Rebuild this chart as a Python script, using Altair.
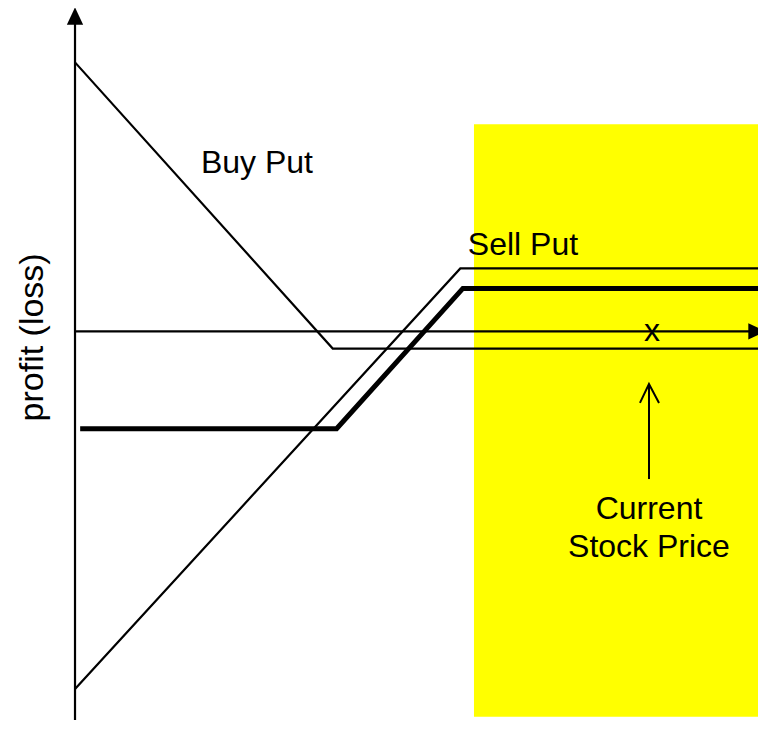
import altair as alt
import pandas as pd

# ---- data (x = stock price units, y = profit units) ----
buy_put_price = [0, 100, 266.5]
buy_put_profit = [94, -6, -6]

sell_put_price = [0, 149.5, 266.5]
sell_put_profit = [-125, 22, 22]

spread_price = [2, 101.5, 150.5, 268]
spread_profit = [-34, -34, 15, 15]

zone_price = [154.8, 266.6]
zone_profit = [-134.7, 72.4]

current_price = 222.7
arrow_profit = [-51.6, -18.4]
arrow_head_price = [219.2, 222.7, 226.6]
arrow_head_profit = [-25.0, -18.4, -25.0]

label_text = ["Buy Put", "Sell Put", "x", "Current", "Stock Price"]
label_price = [70.6, 173.8, 223.9, 222.7, 222.7]
label_profit = [55.3, 26.7, -3.4, -65.5, -78.8]

y_title = "profit (loss)"
y_title_pos = [-12.4, -2.1]

x_domain = [-26, 265.0]
y_domain = [-135.8, 113]

FONT = "Liberation Sans"

xs = alt.Scale(domain=x_domain, nice=False, zero=False)
ys = alt.Scale(domain=y_domain, nice=False, zero=False)


def X(f="price"):
    return alt.X(f"{f}:Q", scale=xs, axis=None)


def Y(f="profit"):
    return alt.Y(f"{f}:Q", scale=ys, axis=None)


zone_df = pd.DataFrame({"price": [zone_price[0]], "price2": [zone_price[1]],
                        "profit": [zone_profit[0]], "profit2": [zone_profit[1]]})
zone = alt.Chart(zone_df).mark_rect(color="#ffff00").encode(
    x=X(), x2="price2:Q", y=Y(), y2="profit2:Q")

# axes
yaxis_df = pd.DataFrame({"price": [0], "profit": [y_domain[0]], "profit2": [107.4]})
yaxis = alt.Chart(yaxis_df).mark_rule(color="black", strokeWidth=2.2).encode(
    x=X(), y=Y(), y2="profit2:Q")
xaxis_df = pd.DataFrame({"price": [0], "price2": [261.5], "profit": [0]})
xaxis = alt.Chart(xaxis_df).mark_rule(color="black", strokeWidth=2.2).encode(
    x=X(), x2="price2:Q", y=Y())
yhead = alt.Chart(pd.DataFrame({"price": [0], "profit": [110.2]})).mark_point(
    shape="M-0.94,1L0,-1L0.94,1Z", filled=True, color="black", size=300, opacity=1,
    strokeWidth=0).encode(x=X(), y=Y())
xhead = alt.Chart(pd.DataFrame({"price": [264.6], "profit": [0]})).mark_point(
    shape="M-1,-0.94L1,0L-1,0.94Z", filled=True, color="black", size=300, opacity=1,
    strokeWidth=0).encode(x=X(), y=Y())

buy = alt.Chart(pd.DataFrame({"price": buy_put_price, "profit": buy_put_profit})).mark_line(
    color="black", strokeWidth=2.2).encode(x=X(), y=Y())
sell = alt.Chart(pd.DataFrame({"price": sell_put_price, "profit": sell_put_profit})).mark_line(
    color="black", strokeWidth=2.2).encode(x=X(), y=Y())
spread = alt.Chart(pd.DataFrame({"price": spread_price, "profit": spread_profit})).mark_line(
    color="black", strokeWidth=5).encode(x=X(), y=Y())

shaft_df = pd.DataFrame({"price": [current_price], "profit": [arrow_profit[0]], "profit2": [arrow_profit[1]]})
shaft = alt.Chart(shaft_df).mark_rule(color="black", strokeWidth=2).encode(
    x=X(), y=Y(), y2="profit2:Q")
head = alt.Chart(pd.DataFrame({"price": arrow_head_price, "profit": arrow_head_profit})).mark_line(
    color="black", strokeWidth=2).encode(x=X(), y=Y())

labels = alt.Chart(pd.DataFrame({"price": label_price, "profit": label_profit, "t": label_text})).mark_text(
    font=FONT, fontSize=32, color="black", align="center", baseline="alphabetic").encode(
    x=X(), y=Y(), text="t:N")

ytitle = alt.Chart(pd.DataFrame({"price": [y_title_pos[0]], "profit": [y_title_pos[1]], "t": [y_title]})).mark_text(
    font=FONT, fontSize=34, color="black", align="center", baseline="alphabetic", angle=270).encode(
    x=X(), y=Y(), text="t:N")

chart = alt.layer(zone, buy, sell, spread, xaxis, yaxis, xhead, yhead, shaft, head, labels, ytitle).properties(
    width=750, height=712, padding=0, autosize=alt.AutoSizeParams(type="none"), background="white"
).configure_view(stroke=None)

chart.save("out.html", embed_options={"renderer": "svg", "actions": False})
